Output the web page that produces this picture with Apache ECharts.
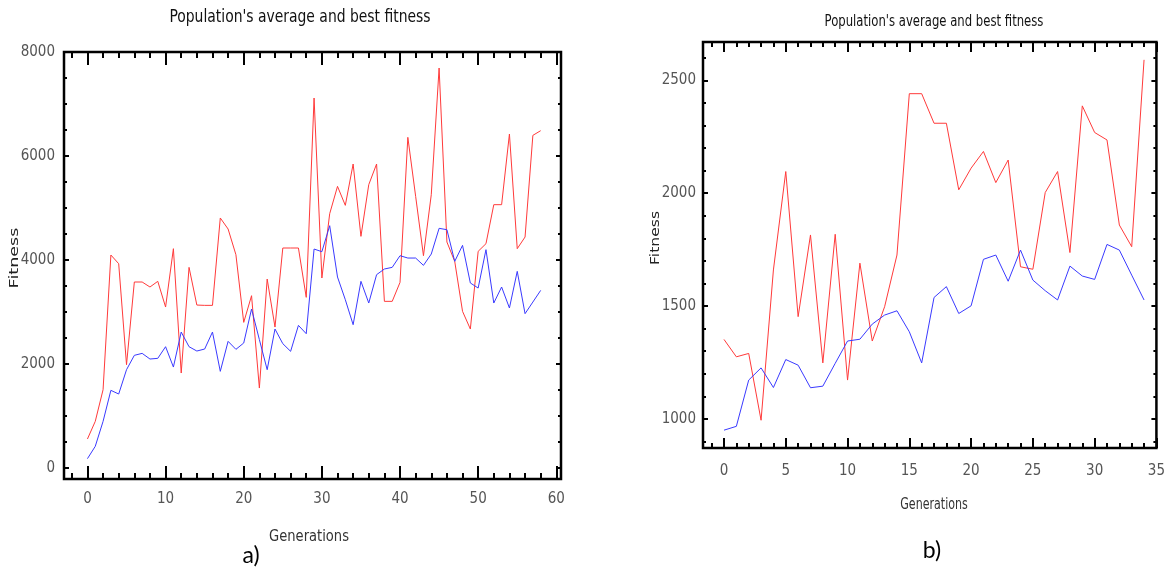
<!DOCTYPE html>
<html><head><meta charset="utf-8">
<script src="https://cdn.jsdelivr.net/npm/echarts@6/dist/echarts.min.js"></script>
<style>html,body{margin:0;padding:0;background:#fff}#c{width:1168px;height:572px}</style>
</head><body><div id="c"></div>
<script>
// Panel a) — 59 generations (0..58)
const bestA = [558, 897, 1506, 4096, 3929, 1987, 3577, 3577, 3481, 3590,
  3096, 4218, 1827, 3859, 3134, 3128, 3128, 4808, 4596, 4102,
  2801, 3314, 1538, 3634, 2711, 4231, 4231, 4231, 3282, 7115,
  3654, 4891, 5416, 5051, 5846, 4455, 5449, 5846, 3205, 3205,
  3570, 6359, 5224, 4083, 5256, 7692, 4346, 3974, 3013, 2673,
  4167, 4314, 5064, 5064, 6423, 4218, 4442, 6397, 6487];
const avgA = [180, 417, 897, 1494, 1423, 1891, 2167, 2205, 2096, 2109,
  2333, 1942, 2615, 2333, 2250, 2288, 2615, 1859, 2436, 2282,
  2404, 3058, 2470, 1891, 2673, 2391, 2244, 2743, 2583, 4211,
  4160, 4660, 3673, 3237, 2756, 3590, 3173, 3718, 3827, 3859,
  4083, 4038, 4038, 3897, 4115, 4609, 4583, 3974, 4282, 3558,
  3461, 4199, 3173, 3481, 3077, 3782, 2968, 3192, 3416];
// Panel b) — 35 generations (0..34)
const bestB = [1352, 1275, 1290, 994, 1660, 2096, 1453, 1815, 1248, 1818,
  1172, 1690, 1345, 1497, 1726, 2441, 2441, 2310, 2310, 2015,
  2111, 2185, 2047, 2147, 1674, 1663, 2003, 2096, 1737, 2387,
  2269, 2236, 1859, 1763, 2591];
const avgB = [950, 967, 1172, 1226, 1139, 1263, 1238, 1138, 1145, 1246,
  1345, 1353, 1420, 1460, 1479, 1386, 1248, 1538, 1586, 1467,
  1501, 1707, 1726, 1610, 1748, 1615, 1568, 1527, 1677, 1633,
  1618, 1773, 1748, 1637, 1527];

const xLabelsA = [0, 10, 20, 30, 40, 50, 60];
const yLabelsA = [0, 2000, 4000, 6000, 8000];
const xLabelsB = [0, 5, 10, 15, 20, 25, 30, 35];
const yLabelsB = [1000, 1500, 2000, 2500];

const titleText = "Population's average and best fitness";
const narrow = "'Liberation Sans Narrow', 'DejaVu Sans Condensed', sans-serif";

function pairs(arr) { return arr.map((v, i) => [i, v]); }
function fmt(list) {
  return function (v) {
    const r = Math.round(v);
    return (Math.abs(v - r) < 1e-6 && list.indexOf(r) >= 0) ? String(r) : '';
  };
}
function axis(grid, pos, min, max, step, tickLen, labels, margin) {
  return {
    type: 'value', gridIndex: grid, position: pos, min: min, max: max,
    minInterval: step, maxInterval: step, splitNumber: Math.max(1, Math.round((max - min) / step)),
    axisLine: { show: false, onZero: false },
    axisTick: { show: true, inside: true, length: tickLen, lineStyle: { color: '#000', width: 2 } },
    splitLine: { show: false },
    axisLabel: labels ? {
      show: true, formatter: fmt(labels), margin: margin, color: '#555',
      fontSize: 15, fontFamily: narrow
    } : { show: false },
    z: 5
  };
}

const xAxes = [
  axis(0, 'bottom', -3, 60.6, 10, 13, xLabelsA, 13),
  axis(0, 'bottom', -3, 60.6, 2, 6, null),
  axis(0, 'top', -3, 60.6, 10, 13, null),
  axis(0, 'top', -3, 60.6, 2, 6, null),
  axis(1, 'bottom', -1.7, 35, 5, 10, xLabelsB, 16),
  axis(1, 'bottom', -1.7, 35, 1, 5, null),
  axis(1, 'top', -1.7, 35, 5, 10, null),
  axis(1, 'top', -1.7, 35, 1, 5, null)
];
const yAxes = [
  axis(0, 'left', -211, 8000, 2000, 5, yLabelsA, 9),
  axis(0, 'left', -211, 8000, 500, 3, null),
  axis(0, 'right', -211, 8000, 2000, 5, null),
  axis(0, 'right', -211, 8000, 500, 3, null),
  axis(1, 'left', 871, 2670, 500, 5, yLabelsB, 7),
  axis(1, 'left', 871, 2670, 100, 3, null),
  axis(1, 'right', 871, 2670, 500, 5, null),
  axis(1, 'right', 871, 2670, 100, 3, null)
];

function line(data, color, xi, yi) {
  return { type: 'line', data: pairs(data), xAxisIndex: xi, yAxisIndex: yi,
    symbol: 'none', lineStyle: { color: color, width: 1 }, itemStyle: { color: color },
    clip: true, silent: true, z: 3 };
}

function txt(x, y, text, font, color, rot, sx) {
  return { type: 'text', x: x, y: y, rotation: rot || 0, scaleX: sx || 1, silent: true, z: 10,
    style: { text: text, font: font, fill: color, align: 'center', verticalAlign: 'middle' } };
}

const option = {
  animation: false,
  backgroundColor: '#fff',
  grid: [
    { left: 64, top: 52, width: 497, height: 427, show: true, borderColor: '#000', borderWidth: 2.5, backgroundColor: 'transparent' },
    { left: 703, top: 42, width: 454, height: 406, show: true, borderColor: '#000', borderWidth: 2.5, backgroundColor: 'transparent' }
  ],
  xAxis: xAxes,
  yAxis: yAxes,
  series: [
    line(bestA, '#ff3a3a', 0, 0),
    line(avgA, '#3a3aff', 0, 0),
    line(bestB, '#ff3a3a', 4, 4),
    line(avgB, '#3a3aff', 4, 4)
  ],
  graphic: [
    txt(300, 18, titleText, "17px " + narrow, '#111', 0, 0.91),
    txt(934, 22, titleText, "16px " + narrow, '#111', 0, 0.81),
    txt(309, 537, 'Generations', "16px " + narrow, '#333', 0, 0.91),
    txt(934, 505, 'Generations', "15px " + narrow, '#333', 0, 0.82),
    txt(15, 258, 'Fitness', "13px 'DejaVu Sans', sans-serif", '#222', Math.PI / 2, 1.35),
    txt(656, 238, 'Fitness', "13px 'DejaVu Sans', sans-serif", '#222', Math.PI / 2, 1.2),
    txt(251, 556, 'a)', "23px Lato, 'Open Sans', sans-serif", '#000'),
    txt(932, 551, 'b)', "23px Lato, 'Open Sans', sans-serif", '#000')
  ]
};
const chart = echarts.init(document.getElementById('c'));
chart.setOption(option);
</script></body></html>
